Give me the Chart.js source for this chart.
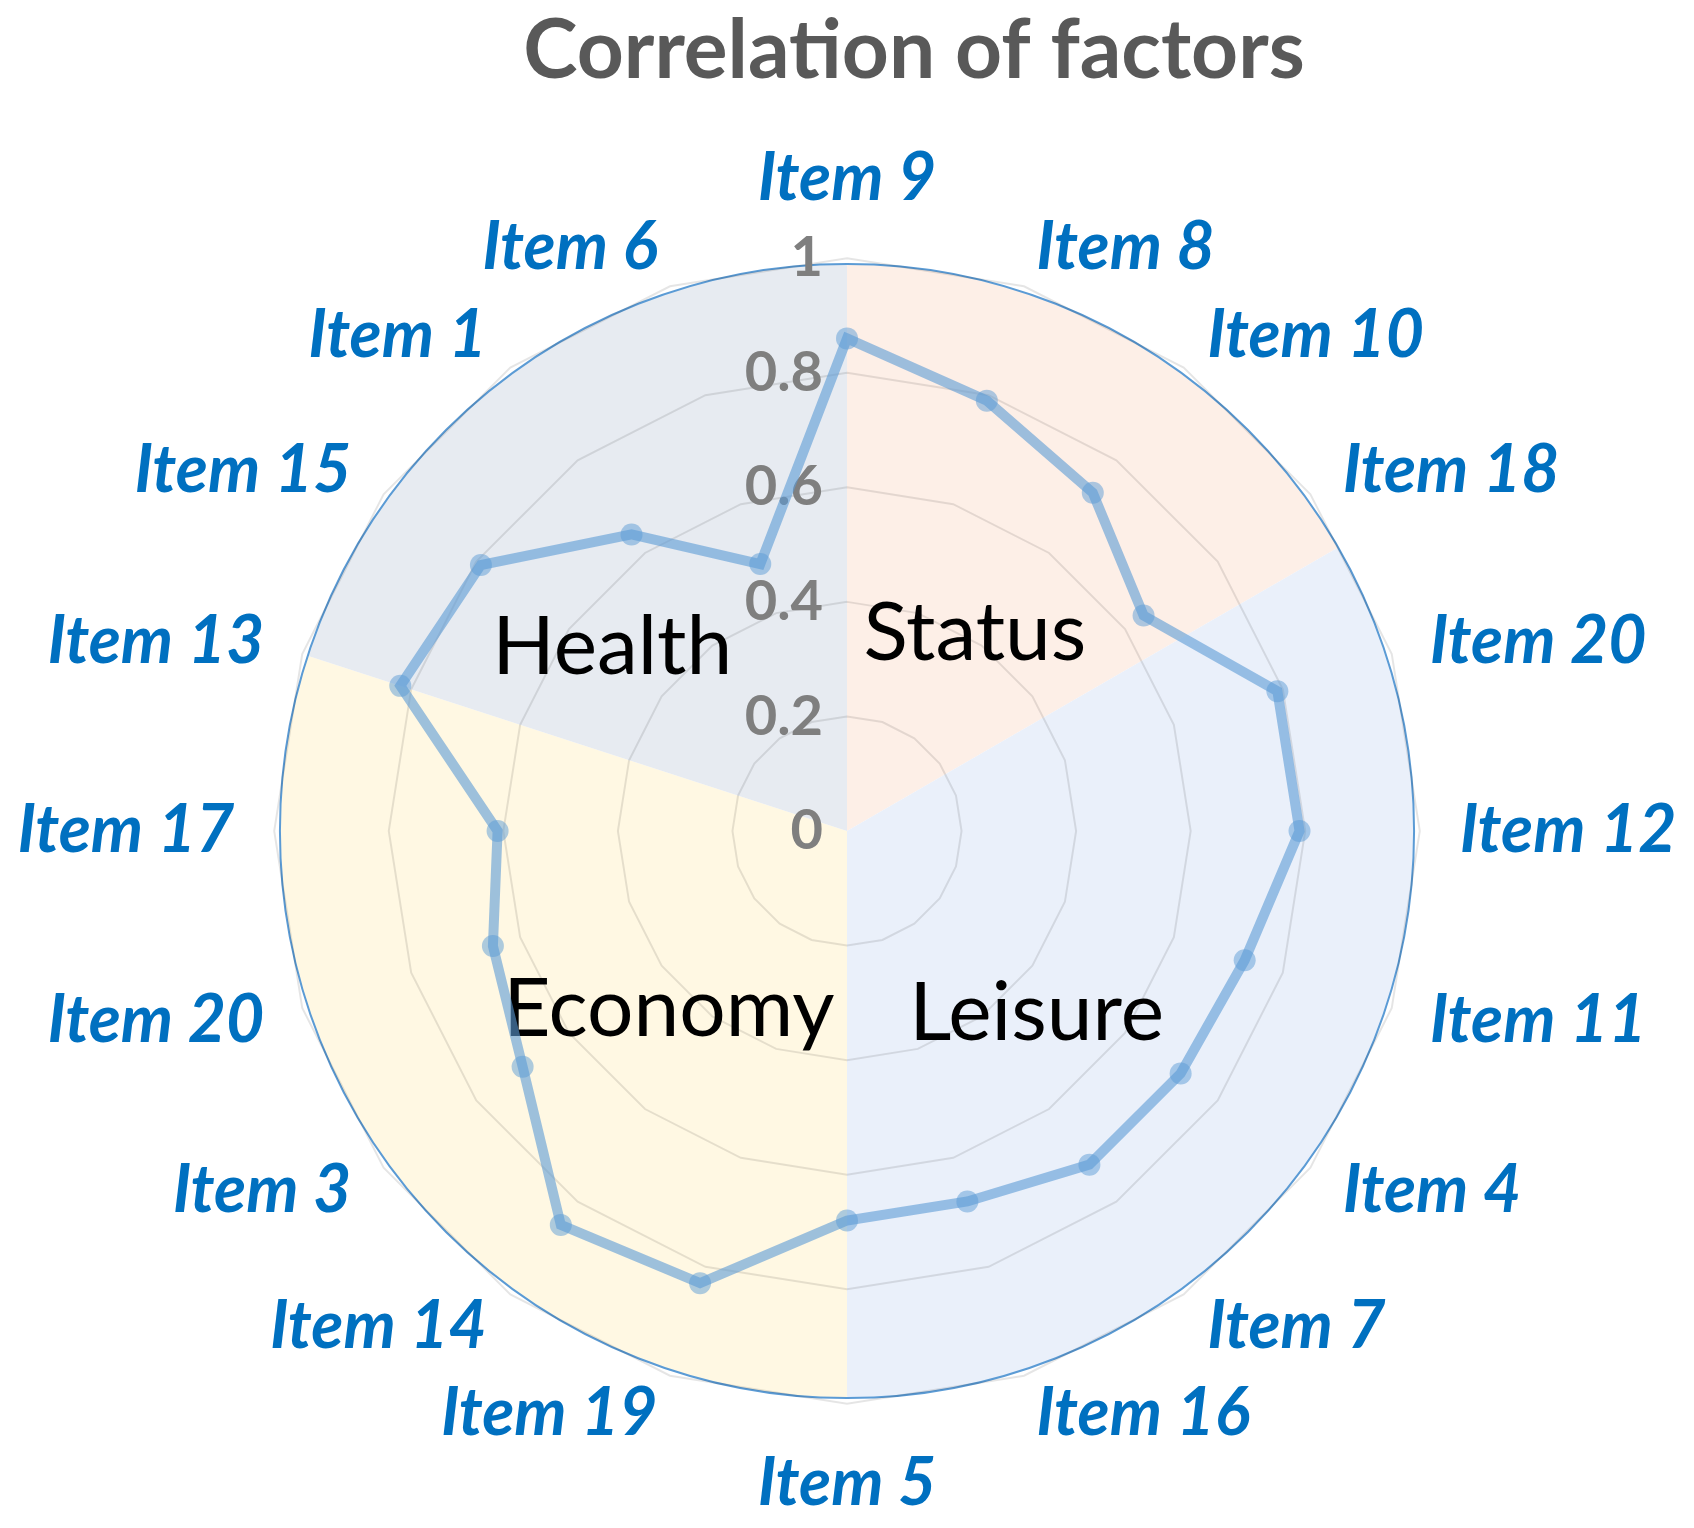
<!DOCTYPE html>
<html>
<head>
  <style>
    body { margin: 0; background: #ffffff; }
    #wrap { width: 1694px; height: 1528px; }
  </style>
  <script src="https://cdn.jsdelivr.net/npm/chart.js"></script>
</head>
<body>
  <div id="wrap"><canvas id="myChart" width="1694" height="1528"></canvas></div>
  <script>
    // item order, clockwise from the top
    const itemLabels = ['Item 9', 'Item 8', 'Item 10', 'Item 18', 'Item 20', 'Item 12', 'Item 11',
      'Item 4', 'Item 7', 'Item 16', 'Item 5', 'Item 19', 'Item 14', 'Item 3', 'Item 20',
      'Item 17', 'Item 13', 'Item 15', 'Item 1', 'Item 6'];
    const correlation = [0.86, 0.79, 0.73, 0.64, 0.79, 0.79, 0.73, 0.72, 0.72, 0.68,
      0.68, 0.83, 0.85, 0.70, 0.65, 0.61, 0.82, 0.79, 0.64, 0.49];

    // factor groups drawn as a pie behind the radar (degrees, clockwise from top)
    const groupNames = ['Status', 'Leisure', 'Economy', 'Health'];
    const groupBounds = [0, 60, 180, 288, 360];
    const groupColors = ['#FDEFE7', '#EAF0FA', '#FFF8E3', '#E7EBF1'];

    // where each group name sits: angle (deg) and distance as a share of the radius
    const groupLabelSpot = {
      Status: [33, 0.41], Leisure: [134, 0.46], Economy: [225, 0.44], Health: [308, 0.52]
    };

    const chartTitle = 'Correlation of factors';

    const rad = d => (d - 90) * Math.PI / 180;

    const groupsPlugin = {
      id: 'groups',
      afterUpdate(chart) {
        // centre the side labels vertically on their anchor, as in the original
        const s = chart.scales.r;
        const items = s._pointLabelItems;
        if (!items) return;
        const n = itemLabels.length;
        const pad = s.options.pointLabels.padding;
        items.forEach((it, i) => {
          if (i === 0 || i * 2 === n) return;
          const p = s.getPointPosition(i, s.drawingArea + pad);
          const h = it.bottom - it.top;
          it.y = p.y - h / 2;
          it.top = it.y;
          it.bottom = it.y + h;
        });
      },
      beforeDraw(chart) {
        const ctx = chart.ctx;
        ctx.save();
        ctx.fillStyle = '#ffffff';
        ctx.fillRect(0, 0, chart.width, chart.height);
        const s = chart.scales.r;
        const r = s.drawingArea * 0.99;
        groupNames.forEach((g, i) => {
          ctx.beginPath();
          ctx.moveTo(s.xCenter, s.yCenter);
          ctx.arc(s.xCenter, s.yCenter, r, rad(groupBounds[i]), rad(groupBounds[i + 1]));
          ctx.closePath();
          ctx.fillStyle = groupColors[i];
          ctx.fill();
        });
        ctx.beginPath();
        ctx.arc(s.xCenter, s.yCenter, r, 0, Math.PI * 2);
        ctx.strokeStyle = '#5B9BD5';
        ctx.lineWidth = 2;
        ctx.stroke();

        // title, sitting a little right of the plot centre like the original
        ctx.font = 'bold 82px Lato';
        ctx.fillStyle = '#595959';
        ctx.textAlign = 'center';
        ctx.textBaseline = 'middle';
        ctx.fillText(chartTitle, s.xCenter + 67, 52);
        ctx.restore();
      },
      beforeDatasetsDraw(chart) {
        const ctx = chart.ctx;
        const s = chart.scales.r;
        ctx.save();
        // value ticks, right aligned just left of the vertical axis
        ctx.font = 'bold 56px Lato';
        ctx.fillStyle = '#7F7F7F';
        ctx.textAlign = 'right';
        ctx.textBaseline = 'middle';
        s.ticks.forEach(t => {
          ctx.fillText(String(+t.value.toFixed(1)), s.xCenter - 24,
            s.yCenter - s.getDistanceFromCenterForValue(t.value));
        });
        // group names
        ctx.font = '82px Lato';
        ctx.fillStyle = '#000000';
        ctx.textAlign = 'center';
        groupNames.forEach(g => {
          const [a, f] = groupLabelSpot[g];
          const d = s.drawingArea * f;
          ctx.fillText(g, s.xCenter + d * Math.cos(rad(a)), s.yCenter + d * Math.sin(rad(a)));
        });
        ctx.restore();
      }
    };

    new Chart(document.getElementById('myChart'), {
      type: 'radar',
      data: {
        labels: itemLabels,
        datasets: [{
          label: 'Correlation',
          data: correlation,
          borderColor: 'rgba(91, 155, 213, 0.6)',
          borderWidth: 10,
          pointRadius: 11,
          pointBorderWidth: 0,
          pointBackgroundColor: 'rgba(91, 155, 213, 0.5)',
          fill: false,
          tension: 0
        }]
      },
      options: {
        responsive: false,
        animation: false,
        devicePixelRatio: 1,
        layout: { padding: { top: 140, bottom: 4 } },
        plugins: {
          legend: { display: false },
          tooltip: { enabled: false },
          title: { display: false }
        },
        scales: {
          r: {
            min: 0,
            max: 1,
            ticks: { stepSize: 0.2, display: false },
            angleLines: { display: false },
            grid: { color: 'rgba(0, 0, 0, 0.1)', lineWidth: 2 },
            pointLabels: {
              color: '#0070C0',
              padding: 40,
              font: { family: 'Lato', size: 66, weight: 'bold', style: 'italic' }
            }
          }
        }
      },
      plugins: [groupsPlugin]
    });
  </script>
</body>
</html>
